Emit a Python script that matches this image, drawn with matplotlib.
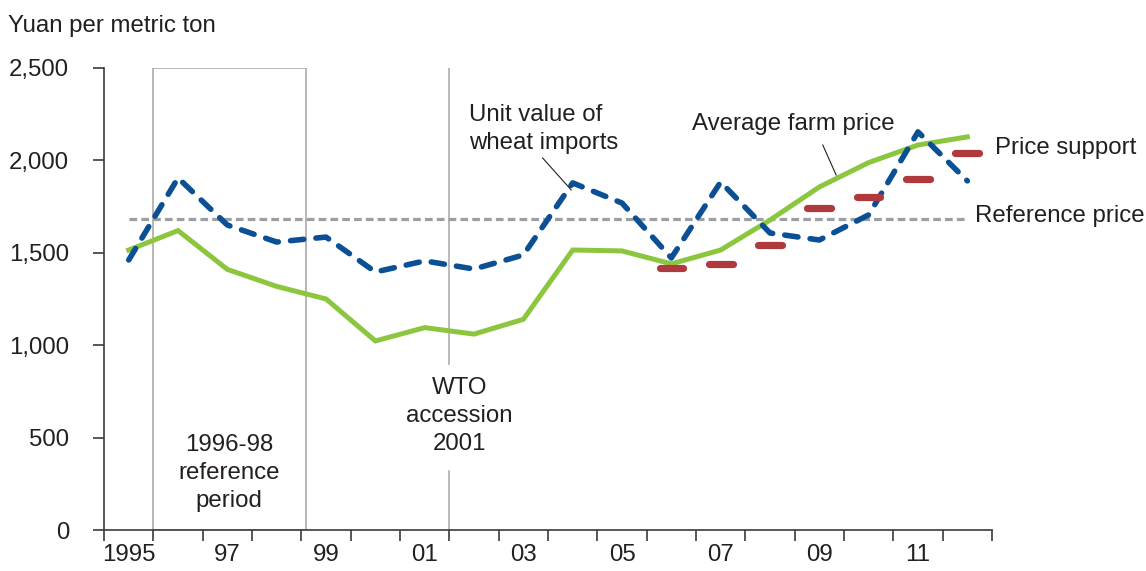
import matplotlib.pyplot as plt
from matplotlib.patches import Rectangle

# Data (yuan per metric ton)
years = list(range(1995, 2013))
farm_price = [1515, 1620, 1410, 1318, 1250, 1023, 1095, 1060, 1140, 1515,
              1510, 1440, 1515, 1677, 1856, 1988, 2083, 2127]
import_value = [1461, 1905, 1650, 1558, 1585, 1396, 1456, 1412, 1488, 1878,
                1769, 1472, 1883, 1607, 1569, 1705, 2154, 1889]
support_years = [2006, 2007, 2008, 2009, 2010, 2011, 2012]
support_price = [1420, 1440, 1540, 1740, 1800, 1900, 2040]
reference_price = 1683

tick_years = [1995, 1997, 1999, 2001, 2003, 2005, 2007, 2009, 2011]
tick_labels = ['1995', '97', '99', '01', '03', '05', '07', '09', '11']

plt.rcParams['font.family'] = ['Liberation Sans', 'DejaVu Sans']
txt = '#231f20'
axcol = '#3a3a3a'
fs = 17.3

fig = plt.figure(figsize=(11.46, 5.71), dpi=100)
ax = fig.add_axes([0.0908, 0.0718, 0.7748, 0.8092])

# 1996-98 reference period box and WTO line
ax.add_patch(Rectangle((1995.5, 0), 3.1, 2500, fill=False, ec='#a3a3a3', lw=1.1))
ax.plot([2001.5, 2001.5], [0, 320], color='#a6a6a6', lw=1.1)
ax.plot([2001.5, 2001.5], [898, 2500], color='#a6a6a6', lw=1.1)

# reference price
ax.plot([years[0], years[-1]], [reference_price, reference_price], color='#9d9ea2',
        lw=2.3, dashes=(2.4, 1.3))

# average farm price
ax.plot(years, farm_price, color='#8cc63f', lw=3.6, solid_joinstyle='miter')

# unit value of imports
ax.plot(years, import_value, color='#0b4f94', lw=4.0, dashes=(2.4, 2.2),
        dash_capstyle='round')

# price support
for yr, val in zip(support_years, support_price):
    ax.plot([yr - 0.24, yr + 0.24], [val, val], color='#b0393d', lw=5.2,
            solid_capstyle='round')

ax.set_xlim(1994.5, 2012.5)
ax.set_ylim(0, 2500)

ax.set_xticks([y - 0.5 for y in years] + [2012.5])
ax.set_xticklabels([])
ax.set_xticks(tick_years, minor=True)
ax.set_xticklabels(tick_labels, minor=True)
ax.tick_params(axis='x', which='major', direction='out', length=8, width=1.2, color=axcol)
ax.tick_params(axis='x', which='minor', length=0, pad=10, labelsize=fs, labelcolor=txt)

ax.set_yticks([0, 500, 1000, 1500, 2000, 2500])
ax.set_yticklabels(['0', '500', '1,000', '1,500', '2,000', '2,500'])
ax.tick_params(axis='y', direction='out', length=8, width=1.2, color=axcol,
               pad=17, labelsize=fs, labelcolor=txt)

for s in ['top', 'right']:
    ax.spines[s].set_visible(False)
for s in ['left', 'bottom']:
    ax.spines[s].set_color(axcol)
    ax.spines[s].set_linewidth(1.2)

# labels
fig.text(8 / 1146, 1 - 26 / 571, 'Yuan per metric ton', fontsize=fs, color=txt,
         ha='left', va='center')
ax.text(1997.04, 308, '1996-98\nreference\nperiod', fontsize=fs, color=txt,
        ha='center', va='center', linespacing=1.33)
ax.text(2001.7, 617, 'WTO\naccession\n2001', fontsize=fs, color=txt,
        ha='center', va='center', linespacing=1.33)
ax.text(2001.89, 2170, 'Unit value of\nwheat imports', fontsize=fs, color=txt,
        ha='left', va='center', linespacing=1.33)
ax.text(2006.42, 2197, 'Average farm price', fontsize=fs, color=txt,
        ha='left', va='center')
ax.text(2012.56, 2067, 'Price support', fontsize=fs, color=txt,
        ha='left', va='center', clip_on=False)
ax.text(2012.15, 1699, 'Reference price', fontsize=fs, color=txt,
        ha='left', va='center', clip_on=False)

# leader lines
ax.plot([2003.39, 2003.97], [2013, 1840], color='#231f20', lw=0.8)
ax.plot([2009.07, 2009.34], [2083, 1921], color='#231f20', lw=0.8)

fig.savefig('out.png', dpi=100)
